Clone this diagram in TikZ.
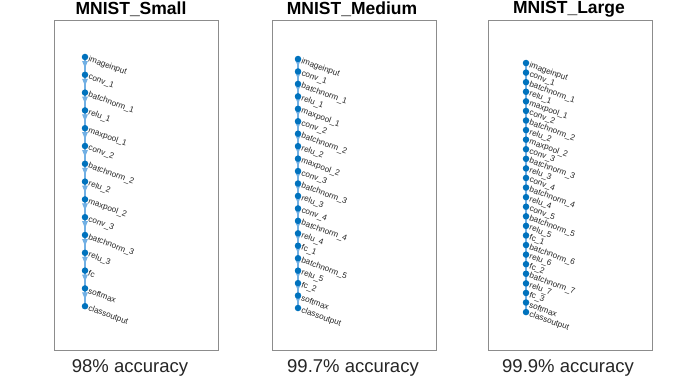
\documentclass[tikz,border=0pt]{standalone}
\usepackage{fontspec}
\setmainfont{Liberation Sans}
\usetikzlibrary{arrows.meta,decorations.markings}
\pgfdeclarelayer{bg}
\pgfsetlayers{bg,main}
\definecolor{dotblue}{HTML}{0072BD}
\definecolor{edgeblue}{HTML}{72B0E4}
\definecolor{boxgray}{HTML}{8C8C8C}
\definecolor{txt}{HTML}{262626}
\tikzset{
  dot/.style={circle,fill=dotblue,inner sep=0pt,minimum size=6.5pt},
  edge/.style={edgeblue,line width=1.1pt,postaction={decorate},
    decoration={markings,mark=at position 0.62 with {\arrow[edgeblue]{Triangle[width=5.5pt,length=7pt]}}}},
  lbl/.style={font=\fontsize{8.2}{9}\selectfont,text=txt,rotate=-20,anchor=west,inner sep=0pt},
  panel/.style={draw=boxgray,line width=1pt,fill=white},
  title/.style={font=\fontsize{17.5}{20}\selectfont\bfseries,text=black},
  acc/.style={font=\fontsize{18.5}{21}\selectfont,text=txt}
}
\begin{document}
\begin{tikzpicture}[x=1pt,y=-1pt]
\begin{pgfonlayer}{bg}
\fill[white] (0,0) rectangle (676,390);
\draw[panel] (54,21) rectangle (218,350);
\draw[panel] (272,21) rectangle (436,350);
\draw[panel] (488,21) rectangle (652,350);
\end{pgfonlayer}
\useasboundingbox (0,0) rectangle (676,390);
\node[title] (t1) at (131,9) {MNIST\_Small};
\node[title] (t2) at (352,9) {MNIST\_Medium};
\node[title] (t3) at (569,9) {MNIST\_Large};
\node[acc] (c1) at (130,368) {98\% accuracy};
\node[acc] (c2) at (353,368) {99.7\% accuracy};
\node[acc] (c3) at (568,368) {99.9\% accuracy};
% network 1
\foreach \t [count=\i] in {imageinput,conv\_1,batchnorm\_1,relu\_1,maxpool\_1,conv\_2,batchnorm\_2,relu\_2,maxpool\_2,conv\_3,batchnorm\_3,relu\_3,fc,softmax,classoutput}{
  \node[dot] (a\i) at (85,{57+(\i-1)*17.8}) {};
  \node[lbl] (la\i) at (88.5,{59+(\i-1)*17.8}) {\t};
}
% network 2
\foreach \t [count=\i] in {imageinput,conv\_1,batchnorm\_1,relu\_1,maxpool\_1,conv\_2,batchnorm\_2,relu\_2,maxpool\_2,conv\_3,batchnorm\_3,relu\_3,conv\_4,batchnorm\_4,relu\_4,fc\_1,batchnorm\_5,relu\_5,fc\_2,softmax,classoutput}{
  \node[dot] (b\i) at (298,{59+(\i-1)*12.45}) {};
  \node[lbl] (lb\i) at (301.5,{61+(\i-1)*12.45}) {\t};
}
% network 3
\foreach \t [count=\i] in {imageinput,conv\_1,batchnorm\_1,relu\_1,maxpool\_1,conv\_2,batchnorm\_2,relu\_2,maxpool\_2,conv\_3,batchnorm\_3,relu\_3,conv\_4,batchnorm\_4,relu\_4,conv\_5,batchnorm\_5,relu\_5,fc\_1,batchnorm\_6,relu\_6,fc\_2,batchnorm\_7,relu\_7,fc\_3,softmax,classoutput}{
  \node[dot] (d\i) at (526,{63+(\i-1)*9.58}) {};
  \node[lbl] (ld\i) at (529.5,{65+(\i-1)*9.58}) {\t};
}
\begin{pgfonlayer}{bg}
\foreach \i [evaluate=\i as \j using int(\i+1)] in {1,...,14}{
  \draw[edge] (a\i.center) -- (a\j.center);
}
\foreach \i [evaluate=\i as \j using int(\i+1)] in {1,...,20}{
  \draw[edge] (b\i.center) -- (b\j.center);
}
\foreach \i [evaluate=\i as \j using int(\i+1)] in {1,...,26}{
  \draw[edge] (d\i.center) -- (d\j.center);
}
\end{pgfonlayer}
\end{tikzpicture}
\end{document}
